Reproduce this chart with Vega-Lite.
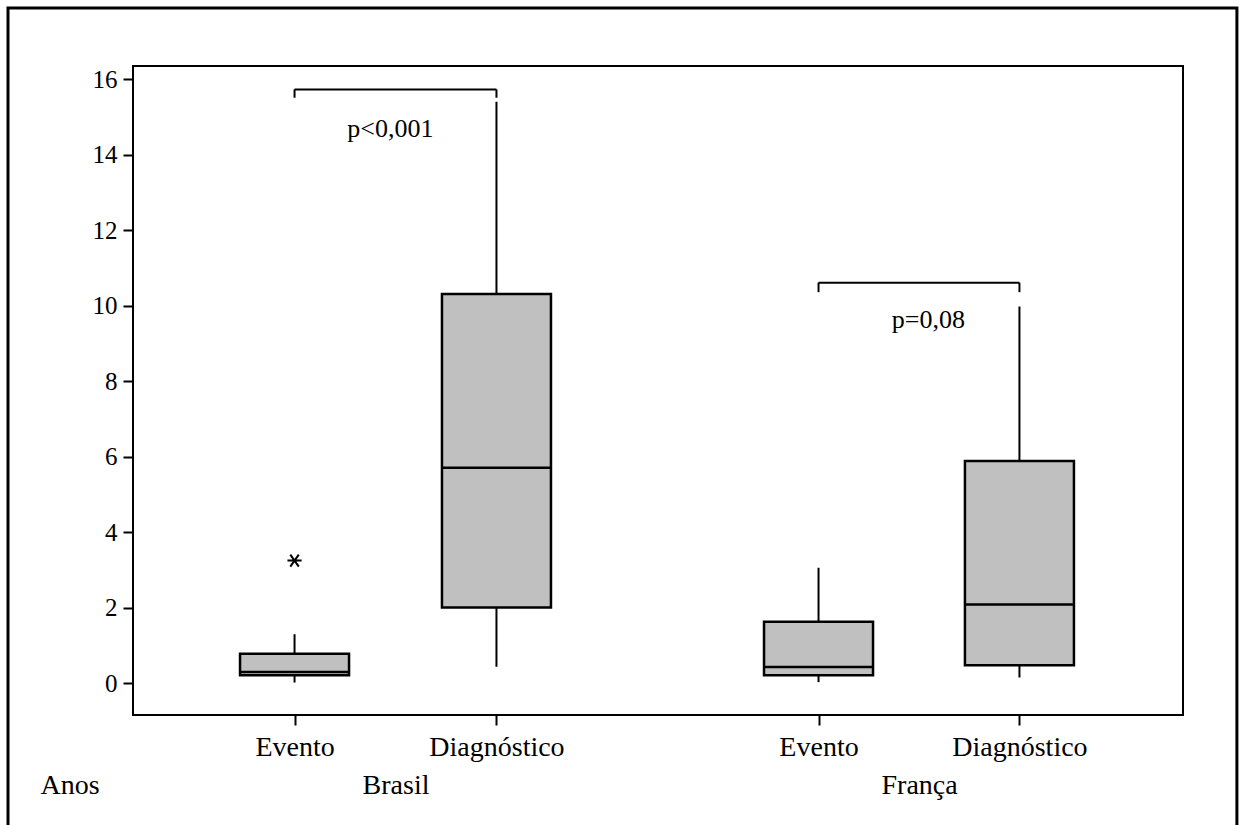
{
  "$schema": "https://vega.github.io/schema/vega-lite/v6.json",
  "width": 1050,
  "height": 649,
  "autosize": "none",
  "padding": {"left": 133, "top": 66, "right": 56, "bottom": 110},
  "background": "white",
  "config": {
    "view": {"stroke": "black", "strokeWidth": 2},
    "font": "Liberation Serif",
    "scale": {"continuousPadding": 0},
    "axis": {"grid": false, "domain": false, "tickColor": "black", "tickWidth": 2, "labelColor": "black", "titleColor": "black", "labelFont": "Liberation Serif", "titleFont": "Liberation Serif"}
  },
  "datasets": {
    "boxes": [
      {"pais": "Brasil", "grupo": "Evento", "x": 1, "lower": 0.02, "q1": 0.21, "median": 0.30, "q3": 0.78, "upper": 1.3},
      {"pais": "Brasil", "grupo": "Diagnóstico", "x": 2, "lower": 0.44, "q1": 2.01, "median": 5.71, "q3": 10.31, "upper": 15.4},
      {"pais": "França", "grupo": "Evento", "x": 3.595, "lower": 0.03, "q1": 0.21, "median": 0.43, "q3": 1.63, "upper": 3.06},
      {"pais": "França", "grupo": "Diagnóstico", "x": 4.59, "lower": 0.15, "q1": 0.48, "median": 2.09, "q3": 5.89, "upper": 9.98}
    ],
    "outliers": [
      {"pais": "Brasil", "grupo": "Evento", "x": 1, "valor": 3.25}
    ],
    "brackets": [
      {"x": 1, "x2": 2, "y": 15.73, "y2": 15.73},
      {"x": 1, "x2": 1, "y": 15.73, "y2": 15.51},
      {"x": 2, "x2": 2, "y": 15.73, "y2": 15.51},
      {"x": 3.595, "x2": 4.59, "y": 10.61, "y2": 10.61},
      {"x": 3.595, "x2": 3.595, "y": 10.61, "y2": 10.36},
      {"x": 4.59, "x2": 4.59, "y": 10.61, "y2": 10.36}
    ],
    "pvalues": [
      {"x": 1.475, "y": 14.46, "label": "p<0,001"},
      {"x": 4.139, "y": 9.41, "label": "p=0,08"}
    ],
    "frame": [
      {"x": -0.419, "x2": 5.667, "y": 17.886, "y2": -4.2}
    ]
  },
  "layer": [
    {
      "data": {"name": "frame"},
      "mark": {"type": "rect", "fill": null, "stroke": "black", "strokeWidth": 3, "clip": false},
      "encoding": {
        "x": {"field": "x", "type": "quantitative", "scale": {"domain": [0.2, 5.4], "nice": false, "zero": false, "padding": 0},
          "axis": {
            "values": [1, 1.5, 2, 3.595, 4.093, 4.59],
            "labelExpr": "datum.value == 1 || datum.value == 3.595 ? 'Evento' : (datum.value == 2 || datum.value == 4.59 ? 'Diagnóstico' : (datum.value == 1.5 ? ['', 'Brasil'] : ['', 'França']))",
            "title": null,
            "labelFontSize": 28,
            "labelLineHeight": 38,
            "labelPadding": 8,
            "tickSize": 10,
            "labelOverlap": false,
            "labelFlush": false,
            "labelBound": false,
            "tickOpacity": {"condition": {"test": "datum.value == 1.5 || datum.value == 4.093", "value": 0}, "value": 1}
          }},
        "x2": {"field": "x2"},
        "y": {"field": "y", "type": "quantitative", "scale": {"domain": [-0.84, 16.35], "nice": false, "zero": false, "padding": 0},
          "axis": {
            "values": [0, 2, 4, 6, 8, 10, 12, 14, 16],
            "labelFontSize": 25,
            "labelPadding": 6,
            "tickSize": 10,
            "title": "Anos",
            "titleAngle": 0,
            "titleX": -93,
            "titleY": 727,
            "titleAlign": "left",
            "titleBaseline": "alphabetic",
            "titleFontSize": 28,
            "titleFontWeight": "normal"
          }},
        "y2": {"field": "y2"}
      }
    },
    {
      "data": {"name": "boxes"},
      "mark": {"type": "rule", "color": "black", "strokeWidth": 2},
      "encoding": {
        "x": {"field": "x", "type": "quantitative"},
        "y": {"field": "lower", "type": "quantitative"},
        "y2": {"field": "upper"}
      }
    },
    {
      "data": {"name": "boxes"},
      "mark": {"type": "bar", "width": 109, "fill": "#c0c0c0", "stroke": "black", "strokeWidth": 2.5},
      "encoding": {
        "x": {"field": "x", "type": "quantitative"},
        "y": {"field": "q1", "type": "quantitative"},
        "y2": {"field": "q3"}
      }
    },
    {
      "data": {"name": "boxes"},
      "mark": {"type": "tick", "orient": "horizontal", "size": 109, "thickness": 2.5, "color": "black", "opacity": 1},
      "encoding": {
        "x": {"field": "x", "type": "quantitative"},
        "y": {"field": "median", "type": "quantitative"}
      }
    },
    {
      "data": {"name": "outliers"},
      "mark": {"type": "point", "shape": "M-1,0L1,0M-0.6,-0.85L0.6,0.85M-0.6,0.85L0.6,-0.85", "size": 200, "filled": false, "stroke": "black", "strokeWidth": 2, "opacity": 1},
      "encoding": {
        "x": {"field": "x", "type": "quantitative"},
        "y": {"field": "valor", "type": "quantitative"}
      }
    },
    {
      "data": {"name": "brackets"},
      "mark": {"type": "rule", "color": "black", "strokeWidth": 2},
      "encoding": {
        "x": {"field": "x", "type": "quantitative"},
        "x2": {"field": "x2"},
        "y": {"field": "y", "type": "quantitative"},
        "y2": {"field": "y2"}
      }
    },
    {
      "data": {"name": "pvalues"},
      "mark": {"type": "text", "fontSize": 26, "font": "Liberation Serif", "align": "center", "baseline": "alphabetic", "color": "black"},
      "encoding": {
        "x": {"field": "x", "type": "quantitative"},
        "y": {"field": "y", "type": "quantitative"},
        "text": {"field": "label"}
      }
    }
  ]
}
